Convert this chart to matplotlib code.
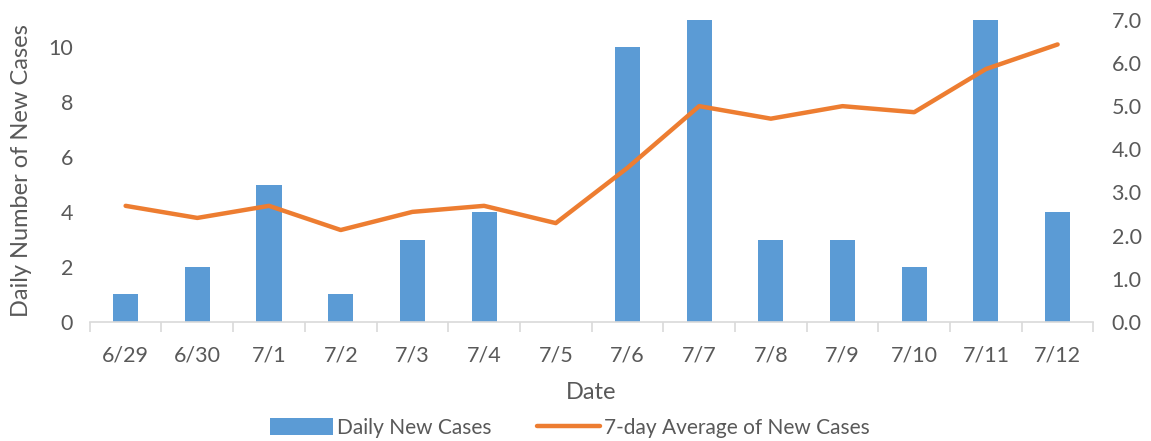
import matplotlib
matplotlib.use("Agg")
import matplotlib.pyplot as plt
import numpy as np

plt.rcParams['font.family'] = ['Lato', 'DejaVu Sans']

dates = ["6/29", "6/30", "7/1", "7/2", "7/3", "7/4", "7/5",
         "7/6", "7/7", "7/8", "7/9", "7/10", "7/11", "7/12"]
daily_cases = [1, 2, 5, 1, 3, 4, 0, 10, 11, 3, 3, 2, 11, 4]
avg_7day = [2.69, 2.41, 2.69, 2.13, 2.55, 2.69, 2.29,
            3.57, 5.0, 4.71, 5.0, 4.86, 5.86, 6.43]

BLUE = "#5B9BD5"
ORANGE = "#ED7D31"
GRAY = "#595959"
GRID = "#D9D9D9"

fig = plt.figure(figsize=(11.51, 4.41), dpi=100)
ax = fig.add_axes([0.078, 0.270, 0.872, 0.685])
ax2 = ax.twinx()

x = np.arange(len(dates))
bars = ax.bar(x, daily_cases, width=0.35, color=BLUE, zorder=2,
              label="Daily New Cases")
line, = ax2.plot(x, avg_7day, color=ORANGE, lw=3.2, solid_capstyle="round",
                 label="7-day Average of New Cases")

ax.set_xlim(-0.5, len(dates) - 0.5)
ax.set_ylim(0, 11)
ax.set_yticks(range(0, 11, 2))
ax2.set_ylim(0, 7)
ax2.set_yticks(np.arange(0, 7.1, 1.0))
ax2.set_yticklabels([f"{v:.1f}" for v in np.arange(0, 7.1, 1.0)])

for a in (ax, ax2):
    for s in ("top", "left", "right", "bottom"):
        a.spines[s].set_visible(False)
    a.tick_params(axis="y", length=0, labelsize=15.5, labelcolor=GRAY)

ax.spines["bottom"].set_visible(True)
ax.spines["bottom"].set_color(GRID)
ax.spines["bottom"].set_linewidth(1.2)

ax.set_xticks(x)
ax.set_xticklabels(dates)
ax.tick_params(axis="x", length=0, labelsize=15.5, labelcolor=GRAY, pad=17)
ax.set_xticks(np.arange(-0.5, len(dates), 1.0), minor=True)
ax.tick_params(axis="x", which="minor", length=7, color=GRID, width=1.2)
ax.tick_params(axis="y", pad=12)
ax2.tick_params(axis="y", pad=13)

ax.set_ylabel("Daily Number of New Cases", fontsize=17, color=GRAY, labelpad=12)
ax.set_xlabel("Date", fontsize=17, color=GRAY, labelpad=12)

fig.legend([bars, line], ["Daily New Cases", "7-day Average of New Cases"],
           loc="center", bbox_to_anchor=(0.495, 0.03), ncol=2, frameon=False,
           fontsize=15, labelcolor=GRAY, handlelength=3.0, handleheight=0.9,
           columnspacing=2.2, handletextpad=0.2)

fig.savefig("out.png", dpi=100)
